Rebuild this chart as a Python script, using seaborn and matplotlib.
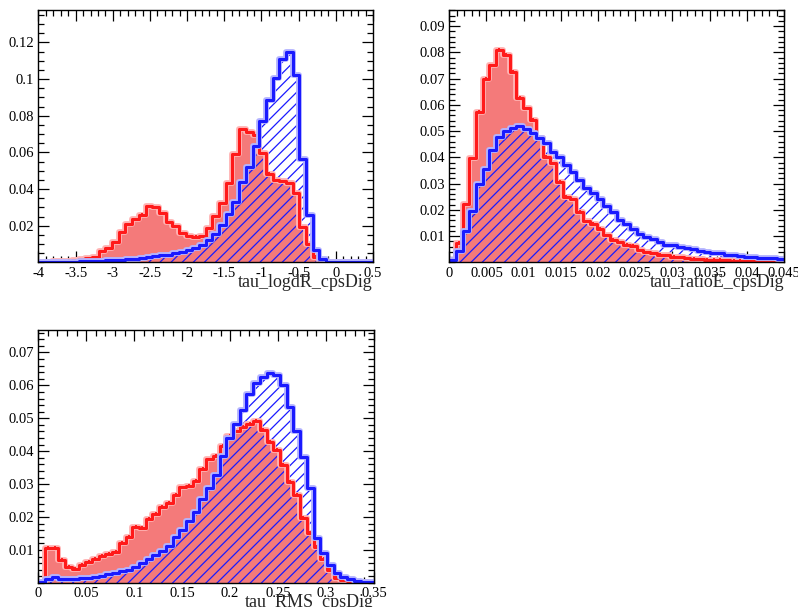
import numpy as np
import pandas as pd
import seaborn as sns
import matplotlib
matplotlib.use("Agg")
import matplotlib.pyplot as plt
from matplotlib.ticker import MultipleLocator, FuncFormatter
import matplotlib.patheffects as pe

sns.set_theme(style="white")
plt.rcParams['font.family'] = ['Liberation Serif', 'DejaVu Serif']
plt.rcParams['hatch.linewidth'] = 0.9

# ---- tau_logdR_cpsDig : 50 bins on [-4, 0.5] ----
logdr_range = (-4.0, 0.5)
logdr_red = [0.0003, 0.0004, 0.0005, 0.0007, 0.0010, 0.0014, 0.0018, 0.0022, 0.0027, 0.0060,
             0.0078, 0.0110, 0.0164, 0.0208, 0.0237, 0.0261, 0.0308, 0.0304, 0.0268, 0.0219,
             0.0199, 0.0159, 0.0146, 0.0141, 0.0143, 0.0186, 0.0255, 0.0322, 0.0435, 0.0589,
             0.0727, 0.0710, 0.0695, 0.0598, 0.0485, 0.0450, 0.0445, 0.0435, 0.0377, 0.0195,
             0.0101, 0.0032, 0.0006, 0.0002, 0.0, 0.0, 0.0, 0.0, 0.0, 0.0]
logdr_blue = [0.0001, 0.0001, 0.0002, 0.0002, 0.0003, 0.0004, 0.0005, 0.0006, 0.0008, 0.0009,
              0.0011, 0.0013, 0.0015, 0.0018, 0.0021, 0.0025, 0.0029, 0.0033, 0.0038, 0.0043,
              0.0049, 0.0057, 0.0066, 0.0079, 0.0096, 0.0121, 0.0156, 0.0204, 0.0262, 0.0330,
              0.0440, 0.0520, 0.0635, 0.0770, 0.0886, 0.1004, 0.1110, 0.1150, 0.1020, 0.0565,
              0.0256, 0.0067, 0.0018, 0.0004, 0.0002, 0.0001, 0.0, 0.0, 0.0, 0.0]

# ---- tau_ratioE_cpsDig : 50 bins on [0, 0.045] ----
ratioe_range = (0.0, 0.045)
ratioe_red = [0.0010, 0.0075, 0.0222, 0.0396, 0.0573, 0.0700, 0.0751, 0.0809, 0.0790, 0.0726,
              0.0627, 0.0587, 0.0542, 0.0472, 0.0402, 0.0377, 0.0307, 0.0250, 0.0240, 0.0193,
              0.0157, 0.0148, 0.0127, 0.0104, 0.0087, 0.0076, 0.0066, 0.0063, 0.0046, 0.0039,
              0.0034, 0.0029, 0.0027, 0.0021, 0.0019, 0.0016, 0.0014, 0.0012, 0.0011, 0.0010,
              0.0009, 0.0008, 0.0007, 0.0006, 0.0005, 0.0005, 0.0004, 0.0004, 0.0003, 0.0003]
ratioe_blue = [0.0009, 0.0044, 0.0120, 0.0197, 0.0297, 0.0355, 0.0428, 0.0478, 0.0502, 0.0513,
               0.0519, 0.0507, 0.0494, 0.0472, 0.0453, 0.0421, 0.0400, 0.0371, 0.0343, 0.0314,
               0.0284, 0.0263, 0.0243, 0.0213, 0.0192, 0.0163, 0.0145, 0.0127, 0.0110, 0.0097,
               0.0089, 0.0078, 0.0068, 0.0065, 0.0059, 0.0055, 0.0050, 0.0045, 0.0041, 0.0037,
               0.0034, 0.0030, 0.0028, 0.0025, 0.0022, 0.0020, 0.0018, 0.0016, 0.0015, 0.0013]

# ---- tau_RMS_cpsDig : 50 bins on [0, 0.35] ----
rms_range = (0.0, 0.35)
rms_red = [0.0004, 0.0107, 0.0106, 0.0070, 0.0049, 0.0042, 0.0054, 0.0065, 0.0072, 0.0082,
           0.0087, 0.0095, 0.0122, 0.0140, 0.0171, 0.0168, 0.0193, 0.0211, 0.0230, 0.0242,
           0.0267, 0.0290, 0.0294, 0.0310, 0.0347, 0.0375, 0.0385, 0.0416, 0.0445, 0.0460,
           0.0474, 0.0482, 0.0491, 0.0465, 0.0427, 0.0404, 0.0357, 0.0307, 0.0267, 0.0196,
           0.0151, 0.0110, 0.0072, 0.0041, 0.0014, 0.0009, 0.0005, 0.0003, 0.0002, 0.0001]
rms_blue = [0.0004, 0.0012, 0.0019, 0.0012, 0.0012, 0.0013, 0.0014, 0.0016, 0.0019, 0.0022,
            0.0027, 0.0031, 0.0037, 0.0041, 0.0049, 0.0060, 0.0072, 0.0085, 0.0098, 0.0113,
            0.0140, 0.0161, 0.0189, 0.0216, 0.0255, 0.0288, 0.0329, 0.0386, 0.0439, 0.0484,
            0.0524, 0.0573, 0.0606, 0.0626, 0.0638, 0.0631, 0.0601, 0.0535, 0.0460, 0.0384,
            0.0288, 0.0137, 0.0090, 0.0054, 0.0029, 0.0019, 0.0011, 0.0007, 0.0004, 0.0002]

# statistical error shown on the red histogram
red_err = 0.0006

RED = '#ff1a1a'
BLUE = '#1a1aff'


def fmt(v, _pos):
    if abs(v) < 1e-12:
        return '0'
    return ('%g' % v)


def draw_panel(ax, xrange, red, blue, title, xmaj, xmin, ymaj, ymin, ymax, yfirst):
    nb = len(red)
    edges = np.linspace(xrange[0], xrange[1], nb + 1)
    centers = 0.5 * (edges[:-1] + edges[1:])
    bins = edges.tolist()
    df = pd.DataFrame({'x': centers, 'red': red, 'blue': blue})

    # red: filled area
    sns.histplot(data=df, x='x', weights='red', bins=bins, element='step',
                 fill=True, color=RED, linewidth=0, ax=ax)
    coll = ax.collections[-1]
    coll.set_alpha(1)
    coll.set_facecolor('#f47a7a')

    # blue: hatched area
    sns.histplot(data=df, x='x', weights='blue', bins=bins, element='step',
                 fill=True, color=BLUE, linewidth=0, ax=ax)
    coll = ax.collections[-1]
    coll.set_alpha(1)
    coll.set_facecolor('none')
    coll.set_edgecolor(BLUE)
    coll.set_hatch('///')
    coll.set_linewidth(0)

    # outlines
    sns.histplot(data=df, x='x', weights='red', bins=bins, element='step',
                 fill=False, color=RED, linewidth=2.2, ax=ax)
    ax.lines[-1].set_path_effects([pe.Stroke(linewidth=4.2, foreground='#ffb4b4'), pe.Normal()])
    ax.errorbar(centers, red, yerr=red_err, fmt='none', ecolor=RED, elinewidth=1.4,
                capsize=0)
    sns.histplot(data=df, x='x', weights='blue', bins=bins, element='step',
                 fill=False, color=BLUE, linewidth=2.2, ax=ax)
    ax.lines[-1].set_path_effects([pe.Stroke(linewidth=4.2, foreground='#b4b4ff'), pe.Normal()])

    ax.set_xlim(*xrange)
    ax.set_ylim(0, ymax)
    ax.xaxis.set_major_locator(MultipleLocator(xmaj))
    ax.xaxis.set_minor_locator(MultipleLocator(xmin))
    ax.set_yticks(np.arange(yfirst, ymax, ymaj))
    ax.yaxis.set_minor_locator(MultipleLocator(ymin))
    ax.xaxis.set_major_formatter(FuncFormatter(fmt))
    ax.yaxis.set_major_formatter(FuncFormatter(fmt))
    ax.tick_params(which='both', direction='in', top=True, right=True,
                   bottom=True, left=True, colors='black', labelsize=10.5)
    ax.tick_params(which='major', length=8, width=0.9, pad=3)
    ax.tick_params(which='minor', length=4.5, width=0.9)
    for s in ax.spines.values():
        s.set_color('black')
        s.set_linewidth(1.0)
    ax.set_ylabel('')
    ax.set_xlabel('')
    ax.text(1.0, -0.045, title, transform=ax.transAxes, ha='right', va='top',
            fontsize=13)
    ax.set_facecolor('white')


fig = plt.figure(figsize=(7.98, 6.07), dpi=100)
ax1 = fig.add_axes([0.0482, 0.5677, 0.4192, 0.4158])
ax2 = fig.add_axes([0.5630, 0.5677, 0.4194, 0.4158])
ax3 = fig.add_axes([0.0480, 0.0395, 0.4206, 0.4168])

draw_panel(ax1, logdr_range, logdr_red, logdr_blue, 'tau_logdR_cpsDig',
           0.5, 0.1, 0.02, 0.005, 0.1377, 0.02)
draw_panel(ax2, ratioe_range, ratioe_red, ratioe_blue, 'tau_ratioE_cpsDig',
           0.005, 0.001, 0.01, 0.002, 0.0961, 0.01)
draw_panel(ax3, rms_range, rms_red, rms_blue, 'tau_RMS_cpsDig',
           0.05, 0.01, 0.01, 0.002, 0.0768, 0.01)

fig.savefig('out.png', dpi=100, facecolor='white')
